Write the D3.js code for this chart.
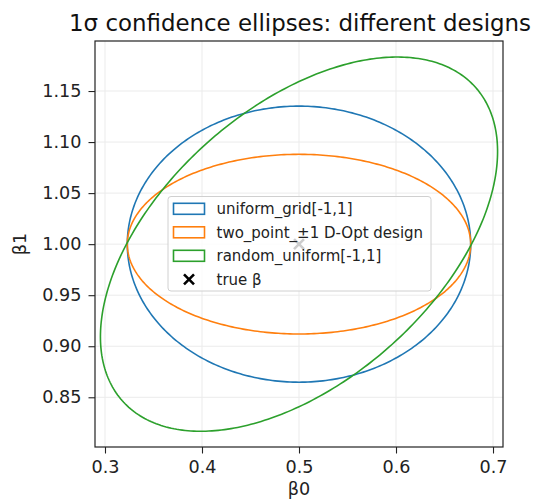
<!DOCTYPE html>
<html lang="en">
<head>
<meta charset="UTF-8" />
<title>1σ confidence ellipses</title>
<script src="https://d3js.org/d3.v7.min.js"></script>
<style>
  body { margin: 0; background: #fff; }
  svg { font-family: "DejaVu Sans", sans-serif; }
</style>
</head>
<body>
<div id="chart"></div>
<script>
  // design names and their 1-sigma ellipse parameters
  const designs = ["uniform_grid[-1,1]", "two_point_±1 D-Opt design", "random_uniform[-1,1]"];
  const colors = ["#1f77b4", "#ff7f0e", "#2ca02c"];
  const center0 = [0.5, 0.5, 0.5];
  const center1 = [1.0, 1.0, 1.0];
  const sd0 = [0.177, 0.177, 0.2047];
  const sd1 = [0.1352, 0.088, 0.1833];
  const rho = [0, 0, 0.495];
  const trueBeta = [0.5, 1.0];

  const xTicks = [0.3, 0.4, 0.5, 0.6, 0.7];
  const yTicks = [0.85, 0.90, 0.95, 1.00, 1.05, 1.10, 1.15];

  const width = 541, height = 504;
  const plotLeft = 95, plotRight = 503, plotTop = 41, plotBottom = 447;

  const x = d3.scaleLinear().domain([0.2897, 0.7103]).range([plotLeft, plotRight]);
  const y = d3.scaleLinear().domain([0.8013, 1.199]).range([plotBottom, plotTop]);

  const svg = d3.select("#chart").append("svg")
    .attr("width", width)
    .attr("height", height);

  // grid
  const grid = svg.append("g");
  grid.selectAll(".gx").data(xTicks).join("line")
    .attr("x1", d => x(d)).attr("x2", d => x(d))
    .attr("y1", plotTop).attr("y2", plotBottom)
    .attr("stroke", "#ebebeb").attr("stroke-width", 1);
  grid.selectAll(".gy").data(yTicks).join("line")
    .attr("y1", d => y(d)).attr("y2", d => y(d))
    .attr("x1", plotLeft).attr("x2", plotRight)
    .attr("stroke", "#ebebeb").attr("stroke-width", 1);

  // ellipses: x0 = c0 + s0 cos t, x1 = c1 + s1 (r cos t + sqrt(1-r^2) sin t)
  const angles = d3.range(0, 361).map(a => a * Math.PI / 180);
  const line = d3.line().x(p => x(p[0])).y(p => y(p[1]));
  designs.forEach((name, i) => {
    const pts = angles.map(t => [
      center0[i] + sd0[i] * Math.cos(t),
      center1[i] + sd1[i] * (rho[i] * Math.cos(t) + Math.sqrt(1 - rho[i] * rho[i]) * Math.sin(t))
    ]);
    svg.append("path")
      .attr("d", line(pts) + "Z")
      .attr("fill", "none")
      .attr("stroke", colors[i])
      .attr("stroke-width", 1.6);
  });

  // true beta marker
  function xMark(g, cx, cy, r) {
    g.append("path")
      .attr("d", `M${cx - r},${cy - r}L${cx + r},${cy + r}M${cx - r},${cy + r}L${cx + r},${cy - r}`)
      .attr("stroke", "#000")
      .attr("stroke-width", 2.6);
  }
  xMark(svg, x(trueBeta[0]), y(trueBeta[1]), 5);

  // frame
  svg.append("rect")
    .attr("x", plotLeft).attr("y", plotTop)
    .attr("width", plotRight - plotLeft).attr("height", plotBottom - plotTop)
    .attr("fill", "none").attr("stroke", "#222").attr("stroke-width", 1.2);

  // axes
  const xAxis = svg.append("g")
    .attr("transform", `translate(0,${plotBottom})`)
    .call(d3.axisBottom(x).tickValues(xTicks).tickSize(6.5).tickPadding(7).tickFormat(d3.format(".1f")));
  const yAxis = svg.append("g")
    .attr("transform", `translate(${plotLeft},0)`)
    .call(d3.axisLeft(y).tickValues(yTicks).tickSize(6.5).tickPadding(7).tickFormat(d3.format(".2f")));
  [xAxis, yAxis].forEach(a => {
    a.select(".domain").remove();
    a.selectAll(".tick line").attr("stroke", "#222").attr("stroke-width", 1.1);
    a.selectAll(".tick text")
      .attr("fill", "#222")
      .attr("font-size", 17.6)
      .attr("font-family", "DejaVu Sans");
  });

  // labels
  svg.append("text")
    .attr("x", (plotLeft + plotRight) / 2 + 1).attr("y", 31)
    .attr("text-anchor", "middle")
    .attr("font-size", 22.9)
    .attr("fill", "#111")
    .text("1σ confidence ellipses: different designs");
  svg.append("text")
    .attr("x", (plotLeft + plotRight) / 2).attr("y", 495)
    .attr("text-anchor", "middle")
    .attr("font-size", 17.6)
    .attr("fill", "#222")
    .text("β0");
  svg.append("text")
    .attr("transform", `translate(26,${(plotTop + plotBottom) / 2}) rotate(-90)`)
    .attr("text-anchor", "middle")
    .attr("font-size", 17.6)
    .attr("fill", "#222")
    .text("β1");

  // legend
  const lg = svg.append("g");
  lg.append("rect")
    .attr("x", 168).attr("y", 196.5)
    .attr("width", 263).attr("height", 94.5)
    .attr("rx", 3)
    .attr("fill", "#fff").attr("fill-opacity", 0.8)
    .attr("stroke", "#d0d0d0").attr("stroke-width", 1);
  const rowY = d => 208.8 + d * 23.5;
  designs.forEach((name, i) => {
    lg.append("rect")
      .attr("x", 173.5).attr("y", rowY(i) - 5.5)
      .attr("width", 31).attr("height", 11)
      .attr("fill", "none")
      .attr("stroke", colors[i]).attr("stroke-width", 1.6);
    lg.append("text")
      .attr("x", 216.5).attr("y", rowY(i) + 5.3)
      .attr("font-size", 15)
      .attr("fill", "#222")
      .text(name);
  });
  xMark(lg, 189, rowY(3), 5);
  lg.append("text")
    .attr("x", 216.5).attr("y", rowY(3) + 5.3)
    .attr("font-size", 15)
    .attr("fill", "#222")
    .text("true β");
</script>
</body>
</html>
